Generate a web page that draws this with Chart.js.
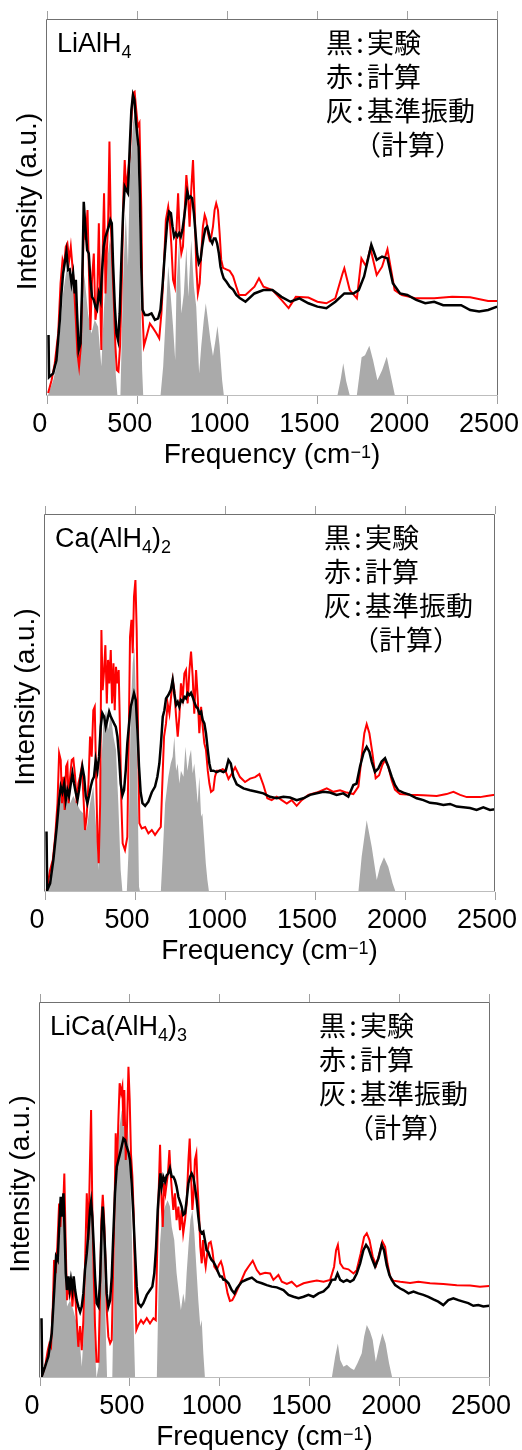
<!DOCTYPE html>
<html>
<head>
<meta charset="utf-8">
<title>Raman spectra - LiAlH4 / Ca(AlH4)2 / LiCa(AlH4)3</title>
<script src="https://cdn.jsdelivr.net/npm/chart.js@4.4.0/dist/chart.umd.min.js"></script>
<style>
  body { margin: 0; background: #fff; width: 522px; height: 1450px; position: relative; overflow: hidden; }
  canvas { position: absolute; left: 0; }
</style>
</head>
<body>
<canvas id="c1" width="522" height="480" style="top:0px"></canvas>
<canvas id="c2" width="522" height="490" style="top:480px"></canvas>
<canvas id="c3" width="522" height="490" style="top:960px"></canvas>
<script>

// ---- data (intensity in a.u., 0 = bottom of frame, 100 = top) ----
var freqTicks = [0, 500, 1000, 1500, 2000, 2500];

// LiAlH4
var liFreqExp = [4,7,30,48,67,76,85,95,104,113,122,132,141,150,156,163,172,182,191,200,209,219,228,237,246,256,265,274,284,293,302,311,321,330,339,348,356,363,373,382,391,400,410,419,428,437,446,456,465,474,482,490,497,505,512,520,527,540,559,577,596,614,627,638,651,664,675,685,694,703,712,721,731,740,749,759,768,776,785,794,803,813,822,831,840,850,859,868,877,887,896,905,915,924,933,942,952,961,970,979,994,1012,1031,1049,1068,1100,1150,1200,1250,1300,1350,1400,1450,1500,1550,1600,1650,1700,1730,1760,1800,1830,1860,1890,1920,1960,2000,2050,2100,2150,2200,2250,2300,2350,2400,2450,2500];
var liIntExp = [16.2,5.0,6.0,9.5,20.2,27.2,32.5,35.6,38.3,33.4,33.6,29.9,32.5,27.2,30.8,21.9,12.2,14.0,29.0,51.5,44.9,38.7,37.8,30.8,26.3,25.5,23.7,22.9,27.2,25.5,33.4,39.6,42.3,43.6,44.9,46.7,45.8,35.2,23.7,16.6,14.8,21.9,37.0,48.5,55.5,54.6,53.8,66.1,75.9,79.8,78.5,73.2,69.6,66.1,53.8,34.3,22.9,21.5,21.5,21.9,20.2,20.6,22.9,29.0,37.8,45.8,48.9,48.5,44.9,42.3,43.2,42.3,43.2,42.3,44.0,47.5,51.1,54.2,52.5,52.9,52.5,48.5,43.2,37.8,35.2,36.1,39.6,42.3,44.4,44.9,43.2,41.4,40.5,41.8,41.8,40.5,37.8,34.3,32.5,31.2,30.3,29.0,28.2,26.8,26.0,25.0,27.2,28.1,28.1,26.3,25.0,25.9,24.6,23.7,23.3,25.0,27.2,27.2,28.1,31.7,40.1,36.1,37.0,36.5,29.9,27.2,26.8,25.5,24.6,25.0,24.1,24.1,24.1,22.8,22.4,22.8,23.7];
var liFreqCalc = [2,21,39,58,71,82,91,100,109,119,128,137,146,156,165,174,184,193,202,211,221,230,237,246,256,265,274,284,291,298,306,313,321,328,336,343,350,358,367,376,384,393,402,412,421,428,436,446,456,465,474,483,492,501,510,520,527,535,549,568,586,605,620,632,646,657,670,679,688,697,707,716,725,734,743,752,761,771,780,789,798,808,817,826,835,845,854,863,873,882,891,900,910,919,928,937,947,956,965,975,993,1012,1031,1049,1064,1100,1150,1175,1200,1250,1300,1340,1380,1450,1500,1550,1600,1640,1650,1680,1720,1745,1770,1795,1830,1860,1890,1930,1970,2050,2150,2250,2350,2450,2500];
var liIntCalc = [0.8,4.2,8.7,16.6,29.9,36.1,34.5,39.6,40.5,36.1,39.6,34.5,29.0,20.2,11.3,7.8,13.3,30.8,48.5,41.4,49.3,30.8,17.5,30.8,37.8,20.2,23.7,45.8,27.2,12.2,39.6,53.8,27.2,37.8,46.7,67.5,46.7,36.1,25.5,13.3,6.9,6.5,13.3,30.8,53.8,62.6,54.6,59.1,63.4,73.2,80.3,80.7,75.9,71.5,72.4,50.2,21.9,13.3,15.7,19.2,18.0,16.6,15.3,21.9,34.5,46.7,50.2,46.7,39.6,30.8,29.0,44.0,53.8,42.3,37.8,39.6,48.5,58.6,53.8,44.9,54.6,62.6,50.2,34.5,27.2,29.9,37.8,44.9,48.0,46.7,43.2,41.4,42.3,44.9,49.3,51.1,49.3,43.2,36.1,34.0,33.6,33.2,31.8,29.0,26.8,26.8,29.0,31.2,29.0,28.1,25.5,23.3,26.3,26.1,25.0,24.6,25.9,32.5,33.9,28.1,25.9,36.5,34.5,39.2,32.1,34.3,38.9,28.1,26.8,25.9,25.9,26.3,26.2,25.2,25.2];
var liFreqModes = [0,11,30,48,67,85,104,122,141,159,172,184,197,206,224,243,261,280,298,311,326,345,354,367,378,387,392,404,419,434,446,456,474,483,497,508,518,525,531,627,642,657,670,683,697,709,716,731,743,757,771,782,798,813,826,842,854,868,879,891,905,919,933,944,956,970,980,1611,1630,1644,1660,1681,1719,1735,1746,1765,1789,1810,1834,1860,1886,1910,1932];
var liIntModes = [0,1.6,4.2,7.8,16.6,27.2,33.4,32.5,30.8,21.9,10.4,11.3,33.4,30.8,21.9,16.6,20.2,18.4,7.8,21.9,34.5,41.4,39.6,21.9,6.0,0.3,0,0,30.8,48.5,34.5,57.3,72.4,75.0,68.0,48.5,21.9,6.9,0,0,7.8,21.9,34.5,27.2,18.4,9.5,29.0,41.4,21.9,27.2,39.6,26.3,41.4,29.0,23.7,6.0,13.3,20.2,24.6,20.2,14.8,10.6,14.8,18.6,13.3,4.2,0,0,4.5,8.7,4,0,0,6,10.3,10.8,13.3,9.5,4.2,6.8,10.4,5,0];

// Ca(AlH4)2
var caFreqExp = [8,12,28,46,65,78,87,96,106,115,124,133,143,152,161,170,180,189,198,207,217,226,235,244,254,263,272,281,291,300,309,318,328,337,346,356,365,374,383,393,402,411,420,430,439,448,457,467,476,485,494,504,513,522,531,541,556,574,593,611,624,635,644,654,663,672,685,698,709,718,728,737,746,755,765,774,783,792,802,811,820,829,839,848,857,867,876,885,894,904,913,922,935,954,972,991,1004,1019,1032,1046,1065,1102,1139,1176,1213,1250,1287,1324,1361,1398,1435,1472,1509,1546,1583,1620,1657,1685,1713,1731,1750,1769,1787,1802,1815,1833,1852,1870,1889,1907,1926,1944,1963,1991,2028,2065,2102,2139,2176,2213,2250,2287,2324,2361,2398,2435,2472,2500];
var caIntExp = [16.0,0.5,2.3,8.5,17.3,24.3,27.9,26.4,28.7,24.3,27.0,25.4,28.7,31.4,28.7,26.4,24.3,27.0,30.5,33.2,30.5,25.4,23.5,25.4,27.9,29.6,30.5,34.9,32.1,35.8,43.7,47.3,46.4,43.7,45.5,47.7,46.4,45.5,44.6,43.7,41.1,35.8,28.7,25.7,27.0,32.1,39.3,44.6,49.0,50.8,52.6,50.8,42.9,33.2,26.4,23.5,22.8,23.9,26.4,27.9,30.5,34.0,39.3,46.4,48.1,51.2,52.1,53.4,56.1,52.6,49.5,50.3,49.0,50.8,50.3,51.6,51.2,52.6,52.1,52.7,51.6,50.3,49.0,48.6,47.3,47.7,45.5,44.6,42.0,37.6,34.0,32.1,32.1,31.7,32.1,31.7,32.1,34.9,34.0,30.5,28.5,27.4,26.9,26.5,26.1,25.2,24.8,25.2,25.0,24.3,24.8,25.7,26.1,26.5,26.3,25.7,26.1,25.2,28.3,28.7,33.2,36.7,38.4,37.1,34.5,31.8,32.7,34.5,35.4,33.2,30.5,28.3,26.9,26.3,25.7,24.8,24.3,23.6,23.4,23.0,23.3,22.6,22.4,22.2,21.7,22.4,21.7,21.9];
var caFreqCalc = [9,28,43,56,69,78,87,94,102,109,117,124,131,139,148,157,167,176,185,194,204,213,222,231,241,250,259,268,276,283,291,298,306,313,320,328,335,343,350,357,365,372,380,387,394,402,409,417,424,431,444,457,465,472,480,487,494,502,509,517,524,537,556,574,593,611,630,643,654,661,672,681,691,700,709,718,728,737,746,755,765,774,783,792,802,811,820,829,839,848,857,867,876,885,894,904,913,922,935,944,954,972,987,1002,1019,1037,1056,1083,1111,1139,1167,1191,1213,1235,1259,1287,1315,1343,1370,1398,1426,1463,1509,1565,1602,1639,1676,1713,1741,1759,1774,1787,1802,1819,1837,1856,1874,1889,1907,1926,1944,1972,2028,2102,2176,2231,2269,2306,2343,2417,2454,2500];
var caIntCalc = [0.5,5.8,8.5,14.6,23.5,36.7,34.9,23.5,30.5,21.7,33.2,34.0,23.5,30.5,34.9,35.3,30.5,23.5,28.7,30.5,33.2,25.4,16.4,19.9,28.7,41.1,35.8,48.1,49.0,32.1,14.6,7.6,23.5,69.3,53.4,58.7,65.3,49.9,61.4,55.2,64.0,49.9,60.5,48.1,59.6,55.2,58.7,41.1,23.5,12.9,11.1,14.6,41.1,67.5,72.0,63.2,78.1,82.5,69.3,41.1,18.2,16.8,17.2,15.5,16.4,15.1,16.4,17.2,32.1,41.1,44.6,49.9,47.2,51.6,56.1,53.4,46.4,41.1,46.4,55.2,51.6,57.8,58.7,49.9,58.7,63.6,57.1,47.2,58.7,51.6,42.0,49.0,43.7,39.3,37.6,32.1,28.7,26.5,27.0,30.5,32.1,32.1,32.5,32.1,29.9,31.3,33.0,30.4,29.1,30.0,30.4,31.2,28.3,24.8,24.3,25.2,24.3,23.4,24.3,22.8,24.3,25.7,26.3,27.4,26.5,26.9,26.3,25.9,27.9,35.8,42.0,44.4,42.0,36.7,30.1,30.9,33.6,34.9,33.2,29.6,27.1,25.9,25.7,25.6,25.4,25.9,26.5,25.7,25.1,25.1,25.4,25.7];
var caFreqModes = [0,28,46,65,83,102,120,139,157,176,194,213,231,250,268,287,298,309,324,339,352,365,380,394,407,420,430,454,463,476,487,496,506,515,522,528,643,654,667,685,698,709,718,728,737,746,755,769,780,791,802,811,820,829,839,848,857,867,874,883,893,902,911,1741,1759,1787,1815,1843,1861,1883,1907,1931,1948];
var caIntModes = [0,3.2,7.6,16.4,24.3,26.4,25.4,23.5,25.4,23.5,21.7,20.8,16.4,23.5,27.9,14.6,5.8,30.5,44.6,48.1,42.9,47.2,41.1,37.6,23.5,5.8,0,0,10.2,48.1,60.5,64.9,49.0,23.5,1.4,0,0,10.2,23.5,30.5,34.0,35.8,41.1,32.1,34.0,28.7,32.1,30.5,38.4,32.1,35.8,37.6,31.4,34.0,28.7,23.5,30.5,19.9,20.8,14.6,7.6,3.2,0,0,9.3,19.0,12.0,3.2,6.7,9.2,6.7,2.3,0];

// LiCa(AlH4)3
var licaFreqExp = [8,12,28,46,65,80,89,98,108,115,122,130,137,143,150,158,165,172,180,187,195,204,213,223,232,241,250,260,269,278,284,291,299,306,315,325,334,343,349,356,364,371,380,390,399,408,417,427,436,445,454,464,473,482,492,501,510,519,529,538,547,562,575,594,612,625,636,646,655,664,670,677,686,696,705,714,723,733,742,751,760,770,779,788,797,807,816,826,835,844,853,862,872,881,890,900,909,918,927,937,946,955,965,974,983,993,1002,1011,1021,1030,1049,1067,1082,1095,1123,1151,1179,1207,1235,1262,1290,1318,1355,1383,1411,1439,1467,1494,1522,1550,1578,1606,1624,1643,1656,1671,1689,1708,1726,1745,1763,1782,1800,1815,1828,1847,1865,1884,1902,1915,1930,1945,1958,1977,2005,2023,2051,2079,2106,2134,2162,2190,2217,2245,2273,2301,2329,2356,2384,2412,2440,2468,2500];
var licaIntExp = [15.9,0.8,3.0,5.7,11.9,24.3,32.3,31.4,42.0,48.2,42.9,49.1,38.5,27.9,23.4,27.0,23.4,26.1,23.4,27.0,23.4,20.7,19.0,17.6,19.0,22.5,28.7,33.2,38.5,44.7,46.9,42.9,34.9,27.0,19.9,19.0,26.1,40.2,45.6,40.2,31.4,22.5,19.0,20.7,27.0,38.5,49.1,56.2,58.0,59.7,61.5,63.7,63.3,61.5,60.1,58.0,51.8,43.8,33.2,24.3,19.9,19.0,19.9,22.1,23.4,24.3,27.9,34.9,44.7,50.9,54.4,50.9,53.5,52.2,53.9,54.4,55.8,53.5,53.5,52.6,50.9,48.2,46.9,45.6,43.4,43.8,47.3,51.8,53.5,54.4,53.5,50.9,47.3,42.9,39.3,38.5,38.9,36.6,34.0,33.5,32.2,31.4,30.9,30.1,29.2,27.9,27.0,27.0,26.1,26.1,25.2,23.4,22.5,23.8,25.6,26.2,26.7,25.6,25.2,24.7,24.3,24.1,23.4,22.1,21.6,21.2,21.6,22.1,21.6,22.5,23.0,24.3,26.1,26.2,27.8,26.1,25.6,26.1,25.6,26.1,27.8,30.5,34.0,35.4,34.5,31.8,29.6,31.8,35.4,34.0,30.0,27.4,26.1,24.7,23.8,23.4,22.5,23.0,22.5,22.1,21.6,20.9,20.3,19.4,20.7,21.2,20.7,20.3,19.9,19.2,19.4,19.0,19.2];
var licaFreqCalc = [9,28,43,52,61,71,78,87,96,106,113,120,128,135,143,150,158,165,172,180,187,195,204,213,223,232,241,250,260,269,278,284,291,299,306,314,325,334,341,349,356,364,371,380,390,399,408,416,421,428,436,443,451,458,464,469,477,484,492,499,506,514,521,529,536,547,562,575,594,612,631,644,651,659,668,675,683,690,698,705,712,720,727,735,742,751,760,770,779,788,797,807,816,826,833,840,848,855,862,870,877,885,892,900,907,914,922,931,940,950,959,970,983,996,1007,1016,1030,1044,1057,1070,1086,1114,1142,1160,1184,1207,1225,1253,1281,1299,1327,1346,1374,1401,1429,1467,1504,1541,1578,1615,1637,1648,1658,1671,1689,1717,1745,1763,1785,1804,1819,1834,1852,1871,1889,1906,1921,1934,1949,1967,2005,2060,2106,2171,2245,2320,2394,2449,2500];
var licaIntCalc = [0.4,3.0,7.4,9.2,8.3,19.0,31.4,27.9,34.9,46.4,40.2,47.3,44.7,54.4,34.9,20.7,24.3,22.5,26.1,19.0,23.4,22.5,15.4,8.3,13.8,7.4,15.4,29.6,49.1,36.7,58.0,71.3,44.7,27.0,13.8,4.3,4.3,22.5,42.0,48.7,42.9,31.4,18.1,11.0,9.2,10.1,31.4,49.1,65.1,55.3,68.6,78.4,75.8,77.5,67.0,76.6,58.0,67.0,82.8,73.9,59.7,53.5,43.8,24.3,12.8,14.1,15.4,14.5,15.9,14.5,15.9,15.4,31.4,47.3,62.0,49.1,40.2,51.8,49.1,51.8,54.4,60.6,54.4,49.1,44.7,49.1,42.0,45.6,39.3,44.7,38.5,42.0,46.4,58.0,63.7,54.4,44.7,49.1,58.0,59.7,50.9,43.8,34.9,30.5,36.7,32.3,29.6,33.2,35.8,36.2,34.0,29.6,28.7,30.1,31.0,29.6,26.1,22.5,20.5,20.7,22.1,25.2,28.3,29.6,31.2,28.7,27.6,28.0,27.8,26.1,27.4,25.6,25.0,25.6,24.3,25.2,25.6,25.9,25.6,26.1,29.6,34.0,35.4,30.5,29.2,28.9,27.8,28.7,33.1,37.5,38.5,36.7,32.3,30.0,33.1,36.3,34.9,30.5,26.9,25.9,25.6,25.3,25.6,25.2,25.0,24.7,24.6,24.3,24.5];
var licaFreqModes = [0,28,46,65,80,93,106,117,130,139,150,167,185,204,223,232,241,254,265,278,288,297,306,314,325,334,343,350,358,365,373,402,410,421,432,443,455,466,477,488,499,510,519,529,650,659,668,677,696,710,723,733,747,760,773,784,797,807,816,826,837,848,859,870,881,892,900,909,918,1624,1643,1658,1671,1689,1708,1730,1748,1767,1791,1804,1819,1837,1852,1869,1887,1906,1924,1943,1961];
var licaIntModes = [0,2.1,4.8,11.0,22.5,30.5,36.7,45.6,47.3,31.4,19.0,20.7,18.1,14.5,8.3,3.0,10.1,26.1,38.5,47.3,42.9,22.5,7.4,0,3.0,18.1,34.9,44.7,34.9,13.6,0,0,22.5,49.1,58.0,67.0,71.3,67.0,62.6,67.0,58.0,40.2,18.1,0,0,22.5,35.8,42.0,45.6,47.3,45.6,40.2,36.7,27.9,22.5,18.1,22.5,19.9,27.9,34.9,42.0,44.7,38.5,29.6,20.7,13.6,15.4,6.5,0,0,5.7,9.2,4.8,3.0,3.5,2.6,2.1,3.9,6.6,11.0,14.1,12.4,10.1,4.3,8.3,11.9,9.2,3.9,0];

var liLabel = [['LiAlH', 0], ['4', 1]];
var caLabel = [['Ca(AlH', 0], ['4', 1], [')', 0], ['2', 1]];
var licaLabel = [['LiCa(AlH', 0], ['4', 1], [')', 0], ['3', 1]];
var xTitle = [['Frequency (cm', 0], ['\u22121', 2], [')', 0]];
var yTitle = 'Intensity (a.u.)';
var legendKeys = ['黒', '赤', '灰', ''];
var legendTexts = ['実験', '計算', '基準振動', '（計算）'];

var LATIN = '"Liberation Sans", Arial, sans-serif';
var JAPAN = '"Noto Sans CJK JP", sans-serif';

function pts(fs, vs) {
  return fs.map(function (f, i) { return { x: f, y: vs[i] }; });
}

// text with sub (1) / superscript (2) pieces
function drawParts(ctx, parts, x, y, size, center) {
  var small = Math.round(size * 0.66);
  var widths = parts.map(function (p) {
    ctx.font = (p[1] ? small : size) + 'px ' + LATIN;
    return ctx.measureText(p[0]).width;
  });
  var total = widths.reduce(function (a, b) { return a + b; }, 0);
  if (center) x -= total / 2;
  parts.forEach(function (p, i) {
    ctx.font = (p[1] ? small : size) + 'px ' + LATIN;
    var dy = p[1] === 1 ? 6 : (p[1] === 2 ? -5 : 0);
    ctx.fillText(p[0], x, y + dy);
    x += widths[i];
  });
}

function makePanel(id, box, xMin, xMax, label, exp, calc, modes) {
  var canvas = document.getElementById(id);
  var H = canvas.height;

  var decor = {
    id: 'decor',
    afterDraw: function (chart) {
      var ctx = chart.ctx;
      ctx.save();
      // frame
      ctx.lineWidth = 1;
      ctx.strokeStyle = '#707070';
      ctx.beginPath();
      ctx.moveTo(box.left + 0.5, box.bottom);
      ctx.lineTo(box.left + 0.5, box.top + 0.5);
      ctx.lineTo(box.right - 0.5, box.top + 0.5);
      ctx.lineTo(box.right - 0.5, box.bottom);
      ctx.stroke();
      ctx.strokeStyle = '#bdbdbd';
      ctx.beginPath();
      ctx.moveTo(box.left, box.bottom - 0.5);
      ctx.lineTo(box.right, box.bottom - 0.5);
      ctx.stroke();

      ctx.fillStyle = '#000';
      ctx.textAlign = 'left';
      ctx.textBaseline = 'alphabetic';
      // sample name
      drawParts(ctx, label, box.left + 11, box.top + 33, 27, false);
      // x title
      drawParts(ctx, xTitle, (box.left + box.right) / 2, box.bottom + 67, 28, true);
      // y title
      ctx.save();
      ctx.translate(box.left - 10, (box.top + box.bottom) / 2 - 6);
      ctx.rotate(-Math.PI / 2);
      ctx.textAlign = 'center';
      ctx.font = '28px ' + LATIN;
      ctx.fillText(yTitle, 0, 0);
      ctx.restore();
      // legend (Japanese)
      ctx.font = '27px ' + JAPAN;
      ctx.textBaseline = 'middle';
      for (var i = 0; i < legendTexts.length; i++) {
        var ly = box.top + 23.5 + 34 * i;
        if (legendKeys[i]) {
          ctx.textAlign = 'left';
          ctx.fillText(legendKeys[i], box.left + 280, ly);
          ctx.textAlign = 'center';
          ctx.fillText(':', box.left + 314, ly);
          ctx.textAlign = 'left';
          ctx.fillText(legendTexts[i], box.left + 321, ly);
        } else {
          ctx.textAlign = 'left';
          ctx.fillText(legendTexts[i], box.left + 308, ly);
        }
      }
      ctx.restore();
    }
  };

  var setTicks = function (s) {
    s.ticks = freqTicks.map(function (v) { return { value: v }; });
  };

  return new Chart(canvas.getContext('2d'), {
    type: 'line',
    data: {
      datasets: [
        { label: 'exp', data: pts(exp[0], exp[1]), borderColor: '#000', borderWidth: 2.5, pointRadius: 0, fill: false },
        { label: 'calc', data: pts(calc[0], calc[1]), borderColor: '#ff0000', borderWidth: 2, pointRadius: 0, fill: false },
        { label: 'modes', data: pts(modes[0], modes[1]), borderWidth: 0, borderColor: 'rgba(0,0,0,0)', backgroundColor: '#aaaaaa', pointRadius: 0, fill: 'origin' }
      ]
    },
    options: {
      responsive: false,
      devicePixelRatio: 1,
      animation: false,
      layout: { padding: { left: 0, right: 522 - box.right, top: 0, bottom: 0 } },
      plugins: { legend: { display: false }, tooltip: { enabled: false } },
      elements: { line: { tension: 0 } },
      scales: {
        x: {
          type: 'linear', position: 'bottom', min: xMin, max: xMax,
          afterBuildTicks: setTicks,
          afterFit: function (s) { s.height = H - box.bottom; s.paddingLeft = 0; s.paddingRight = 0; },
          grid: { drawOnChartArea: false, drawTicks: true, tickLength: 8, tickColor: '#a0a0a0', color: '#a0a0a0' },
          border: { display: false },
          ticks: {
            padding: 4, color: '#000', autoSkip: false, maxRotation: 0, labelOffset: -8,
            font: { family: LATIN, size: 27 },
            callback: function (v) { return String(v); }
          }
        },
        xTop: {
          type: 'linear', position: 'top', min: xMin, max: xMax,
          afterBuildTicks: setTicks,
          afterFit: function (s) { s.height = box.top; s.paddingLeft = 0; s.paddingRight = 0; },
          grid: { drawOnChartArea: false, drawTicks: true, tickLength: 8, tickColor: '#a0a0a0', color: '#a0a0a0' },
          border: { display: false },
          ticks: { display: false }
        },
        y: {
          min: 0, max: 100,
          afterFit: function (s) { s.width = box.left; },
          grid: { display: false },
          border: { display: false },
          ticks: { display: false }
        }
      }
    },
    plugins: [decor]
  });
}

makePanel('c1', { left: 46, top: 19, right: 498, bottom: 396 }, -10, 2505, liLabel,
  [liFreqExp, liIntExp], [liFreqCalc, liIntCalc], [liFreqModes, liIntModes]);
makePanel('c2', { left: 44, top: 34, right: 495, bottom: 412 }, -6, 2500, caLabel,
  [caFreqExp, caIntExp], [caFreqCalc, caIntCalc], [caFreqModes, caIntModes]);
makePanel('c3', { left: 39, top: 42, right: 490, bottom: 418 }, -6, 2505, licaLabel,
  [licaFreqExp, licaIntExp], [licaFreqCalc, licaIntCalc], [licaFreqModes, licaIntModes]);

</script>
</body>
</html>
